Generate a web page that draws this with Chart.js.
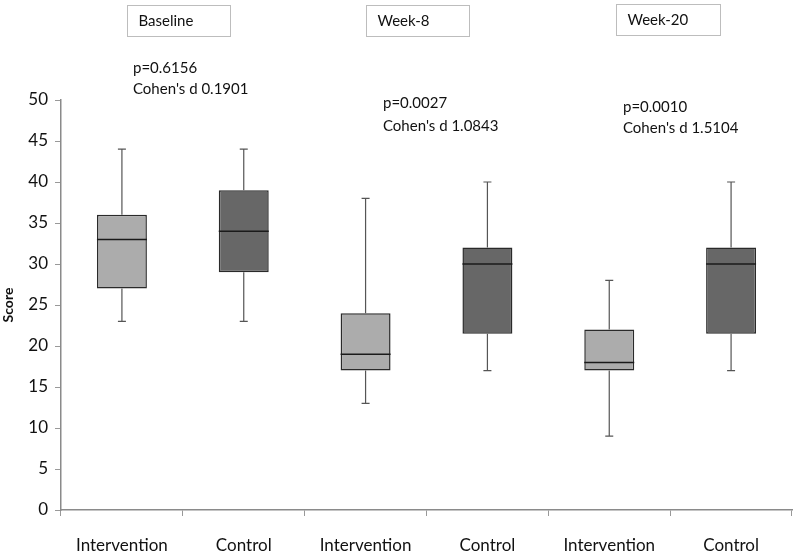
<!DOCTYPE html>
<html>
<head>
<meta charset="utf-8">
<script src="https://cdn.jsdelivr.net/npm/chart.js@4"></script>
<style>
  html, body { margin: 0; padding: 0; background: #fff; }
  #wrap { width: 797px; height: 558px; }
</style>
</head>
<body>
<div id="wrap"><canvas id="boxChart"></canvas></div>
<script>
// categories and five-number summaries
const groups = ['Intervention', 'Control', 'Intervention', 'Control', 'Intervention', 'Control'];
const mins    = [23, 23, 13, 17,  9, 17];
const q1s     = [27, 29, 17, 21.5, 17, 21.5];
const medians = [33, 34, 19, 30, 18, 30];
const q3s     = [36, 39, 24, 32, 22, 32];
const maxs    = [44, 44, 38, 40, 28, 40];
const yTicks  = [0, 5, 10, 15, 20, 25, 30, 35, 40, 45, 50];

const timepoints = ['Baseline', 'Week-8', 'Week-20'];
const pValues = ['p=0.6156', 'p=0.0027', 'p=0.0010'];
const cohens = ["Cohen's d 0.1901", "Cohen's d 1.0843", "Cohen's d 1.5104"];

const boxColors = groups.map(g => g === 'Intervention' ? '#acacac' : '#676767');

// whiskers, caps and median lines drawn on top of the floating bars
const whiskerPlugin = {
    id: 'whiskers',
    afterDatasetsDraw(chart) {
        const ctx = chart.ctx;
        const y = chart.scales.y;
        const meta = chart.getDatasetMeta(0);
        meta.data.forEach((bar, i) => {
            const x = bar.x;
            const half = bar.width / 2;
            ctx.save();
            ctx.strokeStyle = '#555';
            ctx.lineWidth = 1.2;
            ctx.beginPath();
            ctx.moveTo(x, y.getPixelForValue(q3s[i]));
            ctx.lineTo(x, y.getPixelForValue(maxs[i]));
            ctx.moveTo(x, y.getPixelForValue(q1s[i]));
            ctx.lineTo(x, y.getPixelForValue(mins[i]));
            ctx.moveTo(x - 4, y.getPixelForValue(maxs[i]));
            ctx.lineTo(x + 4, y.getPixelForValue(maxs[i]));
            ctx.moveTo(x - 4, y.getPixelForValue(mins[i]));
            ctx.lineTo(x + 4, y.getPixelForValue(mins[i]));
            ctx.stroke();
            ctx.strokeStyle = '#1a1a1a';
            ctx.lineWidth = 1.5;
            ctx.beginPath();
            ctx.moveTo(x - half, y.getPixelForValue(medians[i]));
            ctx.lineTo(x + half, y.getPixelForValue(medians[i]));
            ctx.stroke();
            ctx.restore();
        });
    }
};

// labelled boxes and stats text above each timepoint
const notesPlugin = {
    id: 'notes',
    afterDraw(chart) {
        const ctx = chart.ctx;
        const boxes = [[127.5, 5.5, 103], [366.5, 5.5, 103], [616.5, 4.5, 104]];
        const stats = [[133, 68, 89], [383, 103, 126], [623, 107, 128]];
        ctx.save();
        ctx.font = '15px Lato';
        ctx.textBaseline = 'middle';
        ctx.fillStyle = '#111';
        timepoints.forEach((t, i) => {
            const b = boxes[i];
            ctx.strokeStyle = '#bdbdbd';
            ctx.lineWidth = 1;
            ctx.strokeRect(b[0], b[1], b[2], 31);
            ctx.fillText(t, b[0] + 11, b[1] + 16);
            const s = stats[i];
            ctx.fillText(pValues[i], s[0], s[1]);
            ctx.fillText(cohens[i], s[0], s[2]);
        });
        ctx.restore();
    }
};

function initializeBoxChart() {
    const ctx = document.getElementById('boxChart').getContext('2d');
    new Chart(ctx, {
        type: 'bar',
        data: {
            labels: groups,
            datasets: [{
                label: 'IQR',
                data: groups.map((g, i) => [q1s[i], q3s[i]]),
                backgroundColor: boxColors,
                borderColor: '#2a2a2a',
                borderWidth: 1.5,
                borderSkipped: false,
                barPercentage: 0.41,
                categoryPercentage: 1
            }]
        },
        options: {
            responsive: true,
            maintainAspectRatio: false,
            animation: false,
            layout: { padding: { top: 100, right: 5, left: 0, bottom: 0 } },
            scales: {
                x: {
                    grid: { drawOnChartArea: false, tickLength: 6, color: '#999' },
                    border: { color: '#8a8a8a', width: 1.5 },
                    ticks: { font: { family: 'Lato', size: 17 }, color: '#111', padding: 19, maxRotation: 0 },
                    afterFit: scale => { scale.height = 48; }
                },
                y: {
                    min: 0,
                    max: 50,
                    afterBuildTicks: scale => { scale.ticks = yTicks.map(v => ({ value: v })); },
                    grid: { drawOnChartArea: false, tickLength: 6, color: '#999' },
                    border: { color: '#8a8a8a', width: 1.5 },
                    ticks: { font: { family: 'Lato', size: 17 }, color: '#111', padding: 7 },
                    title: { display: true, text: 'Score', font: { family: 'Lato', size: 14, weight: 'bold' }, color: '#111', padding: 0 },
                    afterFit: scale => { scale.width = 61; }
                }
            },
            plugins: {
                legend: { display: false },
                tooltip: { enabled: false }
            }
        },
        plugins: [whiskerPlugin, notesPlugin]
    });
}

document.addEventListener('DOMContentLoaded', () => {
    initializeBoxChart();
});
</script>
</body>
</html>
